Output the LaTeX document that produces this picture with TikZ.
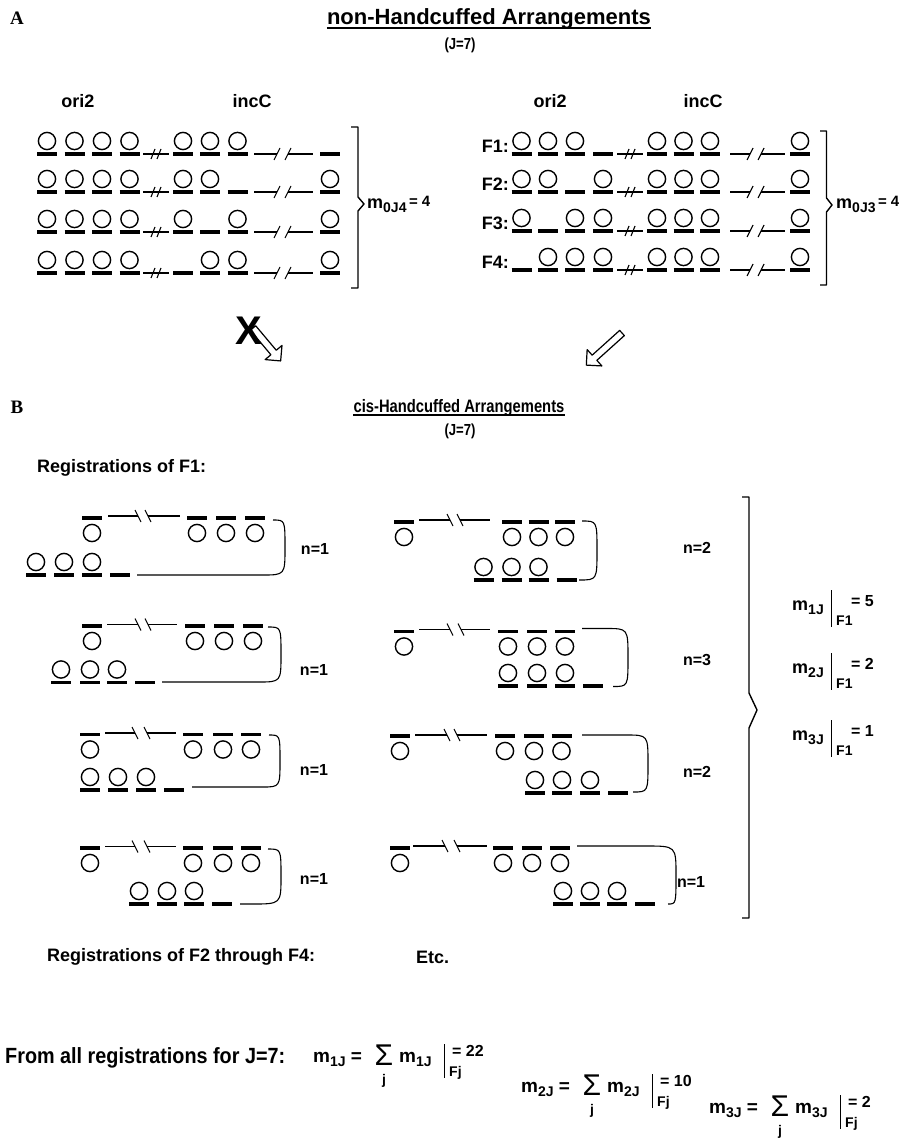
\documentclass[tikz,border=0pt]{standalone}
\usepackage{fontspec}
\usepackage{graphicx}
\setmainfont{Liberation Sans}
\newfontfamily\letterface{Liberation Serif}
\usetikzlibrary{calc}

\newcommand\fsz[1]{\fontsize{#1}{#1}\selectfont}
\newcommand\lowsub[1]{\raisebox{-4pt}{\fsz{14}#1}}
\newcommand\narrow[1]{\scalebox{0.82}[1]{#1}}

% one position on a strand: bar at (#1,#2); #3 = 0 empty, 1 bead above, 2 bead below
\newcommand\slotat[3]{%
  \draw[barline] ({#1-10},#2) -- ({#1+10},#2);
  \ifcase#3\relax\or
    \draw[bead] (#1,{#2-13}) circle (8.6pt);\or
    \draw[bead] (#1,{#2+15}) circle (8.6pt);\fi}
\newcommand\strand[2]{\foreach \sx/\st in {#2}{\slotat{\sx}{#1}{\st}}}

% short interruption: a line crossed by two slashes, centred at (#1,#2)
\newcommand\gapmark[2]{%
  \draw[strandline] ({#1-13},#2) -- ({#1+13},#2);
  \draw[strandline] ({#1-5},{#2+5}) -- ({#1-1},{#2-5});
  \draw[strandline] ({#1+1},{#2+5}) -- ({#1+5},{#2-5});}

% long interruption: line #1..#2 at height #3, cut by slashes at #4 and #5; #6 = 1 for /, -1 for \
\newcommand\longbreak[6]{%
  \draw[strandline] (#1,#3) -- (#4,#3);
  \draw[strandline] (#5,#3) -- (#2,#3);
  \draw[strandline] ({#4-3},{#3+6*#6}) -- ({#4+3},{#3-6*#6});
  \draw[strandline] ({#5-3},{#3+6*#6}) -- ({#5+3},{#3-6*#6});}

% open block arrow: tail (#1), direction #2 (degrees), length #3
\newcommand\hollowarrow[3]{%
  \begin{scope}[shift={(#1)}, rotate=#2]
    \draw[line width=1.2pt, fill=white] (0,-3.5) -- ({#3-11},-3.5) -- ({#3-11},-11) -- (#3,0)
      -- ({#3-11},11) -- ({#3-11},3.5) -- (0,3.5) -- cycle;
  \end{scope}}

% m_kJ = sum_j m_kJ |_Fj = value
\newcommand\sumformula[4]{%
  \node[lbl, anchor=base west] (f#3a) at (#1,#2) {\fsz{19}m\lowsub{#3J} =};
  \node[inner sep=0pt, anchor=base, font=\fontsize{30}{30}\selectfont] (f#3s) at ({#1+71},{#2+3}) {Σ};
  \node[lblsmall] (f#3j) at ({#1+71},{#2+19}) {j};
  \node[lbl, anchor=base west] (f#3b) at ({#1+86},#2) {\fsz{19}m\lowsub{#3J}};
  \coordinate (f#3t) at ({#1+131},{#2-18});
  \coordinate (f#3u) at ({#1+131},{#2+16});
  \draw[thinline] (f#3t) -- (f#3u);
  \node[lblmid, anchor=base west] (f#3v) at ({#1+139},{#2-6}) {= #4};
  \node[lblsmall, anchor=base west] (f#3w) at ({#1+136},{#2+14}) {Fj};}

\begin{document}
\begin{tikzpicture}[x=1pt, y=-1pt, line join=round,
  barline/.style={line width=3.4pt},
  bead/.style={line width=1.4pt},
  strandline/.style={line width=1.1pt},
  thinline/.style={line width=0.9pt},
  bracketline/.style={line width=1.4pt},
  lbl/.style={inner sep=0pt, font=\bfseries\fsz{18}},
  lblmid/.style={inner sep=0pt, font=\bfseries\fsz{16}},
  lblsmall/.style={inner sep=0pt, font=\bfseries\fsz{14}},
  nlbl/.style={inner sep=0pt, font=\bfseries\fsz{16}},
  panel/.style={inner sep=0pt, font=\letterface\bfseries\fsz{19}},
  title/.style={inner sep=0pt, anchor=base, font=\bfseries\fsz{#1}}]

\fill[white] (0,0) rectangle (917,1139);
\useasboundingbox (0,0) rectangle (917,1139);

% ---------------- panel A ----------------
\node[panel] (pA) at (17,18) {A};
\node[title=22] (tA) at (489,25) {non-Handcuffed Arrangements};
\draw[line width=1.3pt] ($(tA.base west)+(0,3)$) -- ($(tA.base east)+(0,3)$);
\node[lblmid] (jA) at (460,45) {\narrow{(J=7)}};

\node[lbl] (oriL) at (78,101) {ori2};
\node[lbl] (incL) at (252,101) {incC};
\node[lbl] (oriR) at (550,101) {ori2};
\node[lbl] (incR) at (703,101) {incC};

% left block: four arrangements
\foreach \y/\a/\b/\c/\d in {154/1/1/1/0, 192/1/1/0/1, 232/1/0/1/1, 273/0/1/1/1}{
  \strand{\y}{47/1,74.5/1,102/1,129.5/1,183/\a,210/\b,237.5/\c,330/\d}
  \gapmark{156}{\y}
  \longbreak{254}{313}{\y}{277}{288}{1}
}
\draw[bracketline] (351,127) -- (358,127) -- (358,197) -- (364,204) -- (358,211) -- (358,288) -- (351,288);
\node[lbl, anchor=base west] (mL) at (367,209) {m\lowsub{0J4}\raisebox{2pt}{\fsz{15}\,= 4}};

% right block: F1..F4
\foreach \y/\a/\b/\c/\d/\n in {154/1/1/1/0/1, 192/1/1/0/1/2, 231/1/0/1/1/3, 270/0/1/1/1/4}{
  \strand{\y}{521.5/\a,548/\b,575/\c,603/\d,657/1,683.5/1,710/1,800/1}
  \gapmark{630}{\y}
  \longbreak{730}{785}{\y}{750}{761}{1}
  \node[lbl, anchor=east] (F\n) at (509,\y-8) {F\n:};
}
\draw[bracketline] (820,131) -- (826.5,131) -- (826.5,198) -- (832,205) -- (826.5,212) -- (826.5,285) -- (820,285);
\node[lbl, anchor=base west] (mR) at (836,209) {m\lowsub{0J3}\raisebox{2pt}{\fsz{15}\,= 4}};

% transitions
\hollowarrow{253,328}{-50}{43}
\node[inner sep=0pt, font=\bfseries\fsz{40}] (xmark) at (249,331) {X};
\hollowarrow{622,333}{-138}{48}

% ---------------- panel B ----------------
\node[panel] (pB) at (17,407) {B};
\node[title=18] (tB) at (459,412) {\narrow{cis-Handcuffed Arrangements}};
\draw[line width=1.3pt] ($(tB.base west)+(0,3)$) -- ($(tB.base east)+(0,3)$);
\node[lblmid] (jB) at (460,431) {\narrow{(J=7)}};
\node[lbl, anchor=west] (regF1) at (37,468) {Registrations of F1:};

% registration 1
\strand{518}{92/2,197/2,226/2,255/2}
\longbreak{108}{180}{516}{138}{148}{-1}
\strand{575}{36/1,64/1,92/1,120/0}
\draw[strandline] (137,575) -- (262,575) .. controls (285,575) .. (285,547.5) .. controls (285,520) .. (273,520);
\node[nlbl] (n1) at (315,549) {n=1};

% registration 2
\strand{522}{404/2,512/2,538.5/2,565/2}
\longbreak{419}{490}{520}{450}{460}{-1}
\strand{580}{483.5/1,511.5/1,538.5/1,566.5/0}
\draw[strandline] (582,521) .. controls (597,521) .. (597,550.5) .. controls (597,580) .. (579,580);
\node[nlbl] (n2) at (697,548) {n=2};

% registration 3
\strand{626}{92/2,195/2,224/2,253/2}
\longbreak{107}{177}{624.5}{138}{148}{-1}
\strand{682.5}{61/1,90/1,117/1,145/0}
\draw[strandline] (162,682) -- (258,682) .. controls (281,682) .. (281,654.5) .. controls (281,627) .. (268,627);
\node[nlbl] (n3) at (314,670) {n=1};

% registration 4
\strand{631.5}{404/2,508/2,537/2,565/2}
\longbreak{419}{490}{629.5}{450}{461}{-1}
\strand{686}{508/1,537/1,565/1,593/0}
\draw[strandline] (582,628.5) -- (606,628.5) .. controls (628,628.5) .. (628,657.5) .. controls (628,686.5) .. (613,686.5);
\node[nlbl] (n4) at (697,660) {n=3};

% registration 5
\strand{734.5}{90/2,193/2,223/2,251/2}
\longbreak{105}{176}{733}{135}{147}{-1}
\strand{790}{90/1,118/1,146/1,174/0}
\draw[strandline] (192,787) -- (262,787) .. controls (280,787) .. (280,761) .. controls (280,735) .. (269,735);
\node[nlbl] (n5) at (314,770) {n=1};

% registration 6
\strand{736}{400/2,505/2,534/2,561.5/2}
\longbreak{415}{487}{735}{447}{457}{-1}
\strand{793}{535/1,562/1,590/1,618/0}
\draw[strandline] (582,735) -- (626,735) .. controls (648,735) .. (648,763.5) .. controls (648,792) .. (633,792);
\node[nlbl] (n6) at (697,772) {n=2};

% registration 7
\strand{848}{90/2,193/2,223/2,251/2}
\longbreak{105}{176}{846.5}{135}{147}{-1}
\strand{904}{139/1,167/1,194/1,222/0}
\draw[strandline] (240,904) -- (252,904) .. controls (281,904) .. (281,876.5) .. controls (281,849) .. (268,849);
\node[nlbl] (n7) at (314,879) {n=1};

% registration 8
\strand{848}{400/2,503/2,532/2,560/2}
\longbreak{413}{487}{846}{445}{457}{-1}
\strand{904}{563/1,590/1,617/1,645/0}
\draw[strandline] (577,846) -- (646,846) .. controls (676,846) .. (676,875) .. controls (676,904) .. (668,904);
\node[nlbl] (n8) at (691,882) {n=1};

% brace gathering the registrations of F1
\draw[bracketline] (742,497) -- (749,497) -- (749,693) -- (757,710) -- (749,728) -- (749,918) -- (742,918);
\foreach \k/\yb/\v in {1/610/5, 2/673/2, 3/740/1}{
  \node[lbl, anchor=base west] (mF\k) at (792,\yb) {m\lowsub{\k J}};
  \coordinate (bt\k) at (831,\yb-20);
  \coordinate (bb\k) at (831,\yb+17);
  \draw[thinline] (bt\k) -- (bb\k);
  \node[lblmid, anchor=base west] (vF\k) at (851,\yb-4) {= \v};
  \node[lblsmall, anchor=base west] (sF\k) at (836,\yb+15) {F1};
}

\node[lbl, anchor=west] (regF2) at (47,957) {Registrations of F2 through F4:};
\node[lbl, anchor=west] (etc) at (416,957) {Etc.};

% totals over all registrations
\node[inner sep=0pt, anchor=west, font=\bfseries\fsz{22}] (fromall) at (5,1058) {\scalebox{0.9}[1]{From all registrations for J=7:}};
\sumformula{313}{1062}{1}{22}
\sumformula{521}{1092}{2}{10}
\sumformula{709}{1113}{3}{2}

\end{tikzpicture}
\end{document}
